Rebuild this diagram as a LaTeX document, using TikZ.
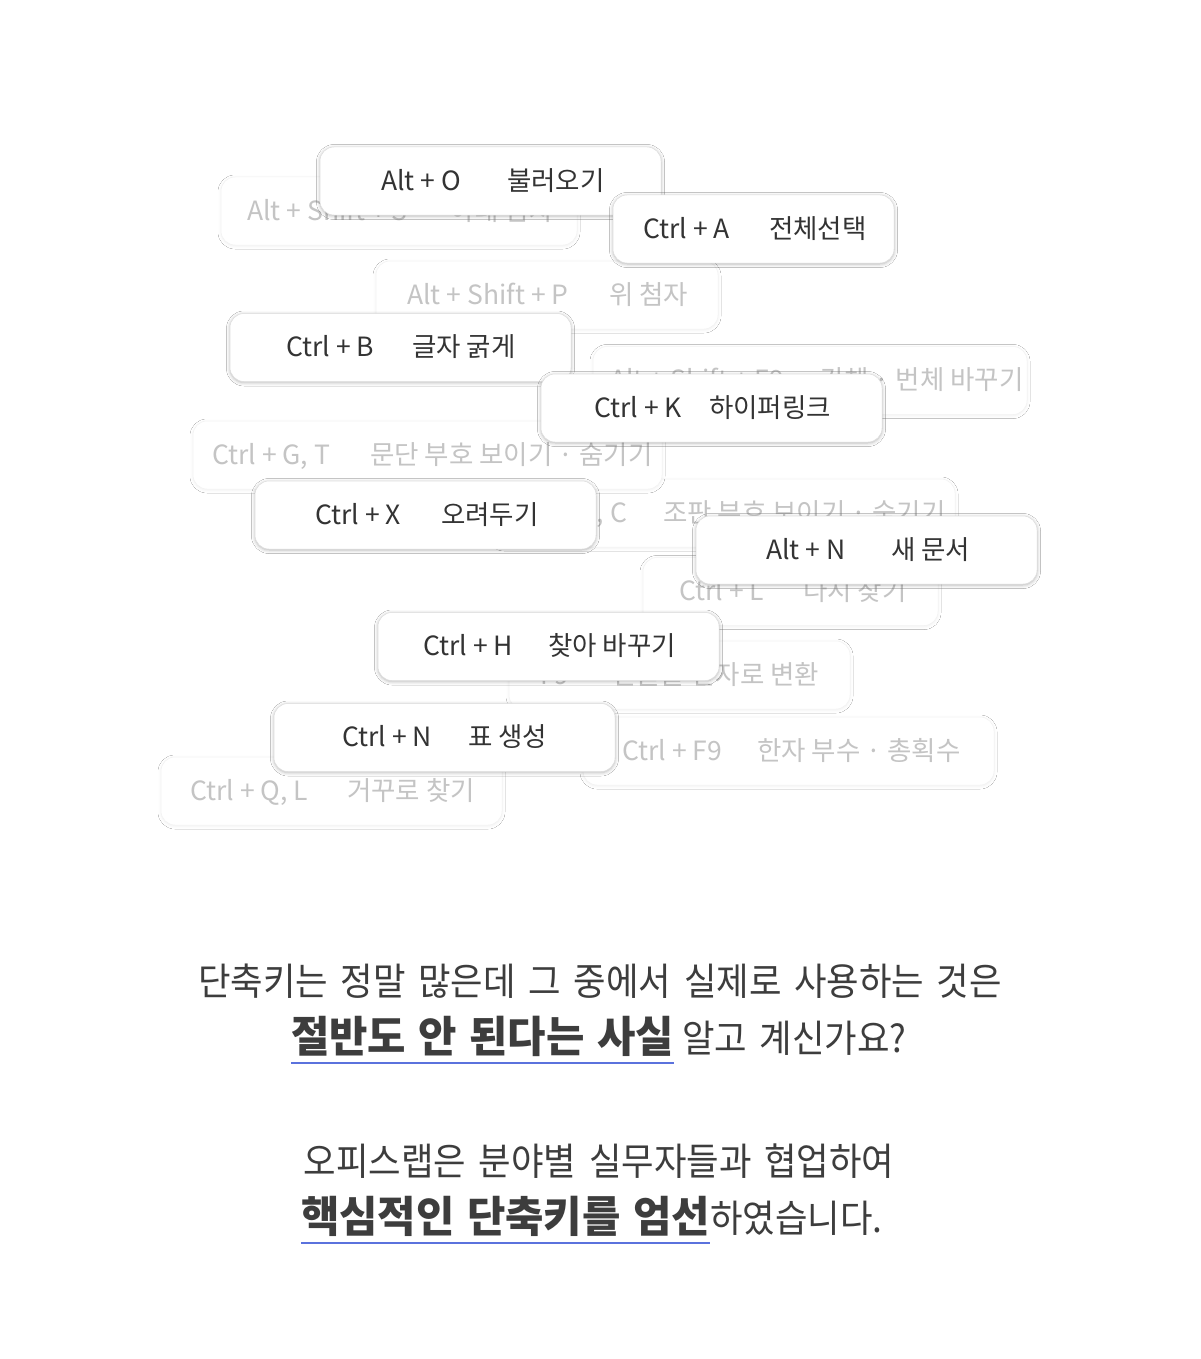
\documentclass[tikz,border=0pt]{standalone}
\usepackage{fontspec}
\setmainfont{Noto Sans CJK KR}
\newfontfamily\bodyfont{Noto Sans CJK KR}[FakeStretch=0.93, WordSpace=1.6]
\newfontfamily\strongfont{Noto Sans CJK KR}[FakeStretch=0.97, WordSpace=1.3]
\usetikzlibrary{shadows.blur}
\definecolor{keyink}{HTML}{333333}
\definecolor{fadeink}{HTML}{C4C4C4}
\definecolor{bodyink}{HTML}{3D3D3D}
\definecolor{markline}{HTML}{5B72DD}

\begin{document}
\begin{tikzpicture}[x=1pt,y=-1pt,
    topcard/.style={rectangle, rounded corners=14pt, fill=white, draw=black!13, line width=0.5pt,
      minimum height=68pt, inner sep=0pt,
      blur shadow={shadow xshift=0pt, shadow yshift=-1pt, shadow blur radius=3.5pt, shadow opacity=30}},
    fadecard/.style={rectangle, rounded corners=14pt, fill=white, draw=black!5, line width=0.5pt,
      minimum height=68pt, inner sep=0pt,
      blur shadow={shadow xshift=0pt, shadow yshift=-1pt, shadow blur radius=3pt, shadow opacity=6}},
    keytext/.style={anchor=base west, inner sep=0pt, text=keyink, font=\fontsize{26.5}{30}\selectfont},
    fadetext/.style={anchor=base west, inner sep=0pt, text=fadeink, font=\fontsize{26.5}{30}\selectfont},
    bodytext/.style={inner sep=0pt, text=bodyink, font=\bodyfont\fontsize{38}{44}\selectfont},
    strongtext/.style={inner sep=0pt, text=bodyink, font=\strongfont\bfseries\fontsize{43}{48}\selectfont},
    markrule/.style={draw=markline, line width=2.6pt}]
    \useasboundingbox[fill=white] (0,0) rectangle (1200,1359);

    % Faded cards
    \node[fadecard, minimum width=356pt] (altShiftS) at (399,211) {};
    \node[fadetext] (altShiftSkey) at (247,220) {Alt + Shift + S};
    \node[fadetext] (altShiftSdesc) at (450,220) {아래 첨자};

    \node[fadecard, minimum width=342pt] (altShiftP) at (547,295) {};
    \node[fadetext] (altShiftPkey) at (407,304) {Alt + Shift + P};
    \node[fadetext] (altShiftPdesc) at (609,304) {위 첨자};

    \node[fadecard, minimum width=434pt] (altShiftF) at (810,380.5) {};
    \node[fadetext] (altShiftFkey) at (610,389.5) {Alt + Shift + F9};
    \node[fadetext] (altShiftFdesc) at (820,389.5) {간체 · 번체 바꾸기};

    \node[fadecard, minimum width=465pt] (ctrlGC) at (722.5,513) {};
    \node[fadetext] (ctrlGCkey) at (508,522) {Ctrl + G, C};
    \node[fadetext] (ctrlGCdesc) at (663,522) {조판 부호 보이기 · 숨기기};

    \node[fadecard, minimum width=469pt] (ctrlGT) at (427.5,455) {};
    \node[fadetext] (ctrlGTkey) at (212,464) {Ctrl + G, T};
    \node[fadetext] (ctrlGTdesc) at (370,464) {문단 부호 보이기 · 숨기기};

    \node[fadecard, minimum width=295pt] (ctrlL) at (790.5,591.5) {};
    \node[fadetext] (ctrlLkey) at (679,600.5) {Ctrl + L};
    \node[fadetext] (ctrlLdesc) at (803,600.5) {다시 찾기};

    \node[fadecard, minimum width=341pt] (fNine) at (679.5,675) {};
    \node[fadetext] (fNinekey) at (540,684) {F9};
    \node[fadetext] (fNinedesc) at (612,684) {한글을 한자로 변환};

    \node[fadecard, minimum width=411pt] (ctrlF) at (788.5,751) {};
    \node[fadetext] (ctrlFkey) at (622,760) {Ctrl + F9};
    \node[fadetext] (ctrlFdesc) at (757,760) {한자 부수 · 총획수};

    \node[fadecard, minimum width=341pt] (ctrlQL) at (331.5,791) {};
    \node[fadetext] (ctrlQLkey) at (190,800) {Ctrl + Q, L};
    \node[fadetext] (ctrlQLdesc) at (347,800) {거꾸로 찾기};

    % Top cards
    \node[topcard, minimum width=341pt] (altO) at (490.5,181) {};
    \node[keytext] (altOkey) at (381,190) {Alt + O};
    \node[keytext] (altOdesc) at (507,190) {불러오기};

    \node[topcard, minimum width=281pt] (ctrlA) at (753.5,229) {};
    \node[keytext] (ctrlAkey) at (643,238) {Ctrl + A};
    \node[keytext] (ctrlAdesc) at (769,238) {전체선택};

    \node[topcard, minimum width=341pt] (ctrlB) at (400.5,347.5) {};
    \node[keytext] (ctrlBkey) at (286,356.5) {Ctrl + B};
    \node[keytext] (ctrlBdesc) at (412,356.5) {글자 굵게};

    \node[topcard, minimum width=341pt] (ctrlK) at (711.5,408) {};
    \node[keytext] (ctrlKkey) at (594,417) {Ctrl + K};
    \node[keytext] (ctrlKdesc) at (709,417) {하이퍼링크};

    \node[topcard, minimum width=341pt] (ctrlX) at (425.5,515) {};
    \node[keytext] (ctrlXkey) at (315,524) {Ctrl + X};
    \node[keytext] (ctrlXdesc) at (441,524) {오려두기};

    \node[topcard, minimum width=341pt] (altN) at (866.5,550) {};
    \node[keytext] (altNkey) at (766,559) {Alt + N};
    \node[keytext] (altNdesc) at (891,559) {새 문서};

    \node[topcard, minimum width=341pt] (ctrlH) at (548.5,646.5) {};
    \node[keytext] (ctrlHkey) at (423,655.5) {Ctrl + H};
    \node[keytext] (ctrlHdesc) at (548,655.5) {찾아 바꾸기};

    \node[topcard, minimum width=341pt] (ctrlN) at (444.5,737.5) {};
    \node[keytext] (ctrlNkey) at (342,746.5) {Ctrl + N};
    \node[keytext] (ctrlNdesc) at (468,746.5) {표 생성};

    % Message
    \node[bodytext, anchor=base] (lineOne) at (600,995) {단축키는 정말 많은데 그 중에서 실제로 사용하는 것은};
    \node[strongtext, anchor=base west] (lineTwoMark) at (291,1052) {절반도 안 된다는 사실};
    \node[bodytext, anchor=base west] (lineTwoRest) at ([xshift=8pt]lineTwoMark.base east) {알고 계신가요?};
    \node[bodytext, anchor=base] (lineThree) at (599,1175) {오피스랩은 분야별 실무자들과 협업하여};
    \node[strongtext, anchor=base west] (lineFourMark) at (301,1232) {핵심적인 단축키를 엄선};
    \node[bodytext, anchor=base west] (lineFourRest) at (lineFourMark.base east) {하였습니다.};

    % Underlines
    \coordinate (markTwoA) at ([yshift=-11pt]lineTwoMark.base west);
    \coordinate (markTwoB) at ([yshift=-11pt]lineTwoMark.base east);
    \coordinate (markFourA) at ([yshift=-11pt]lineFourMark.base west);
    \coordinate (markFourB) at ([yshift=-11pt]lineFourMark.base east);
    \draw[markrule] (markTwoA) -- (markTwoB);
    \draw[markrule] (markFourA) -- (markFourB);
  \end{tikzpicture}
\end{document}
